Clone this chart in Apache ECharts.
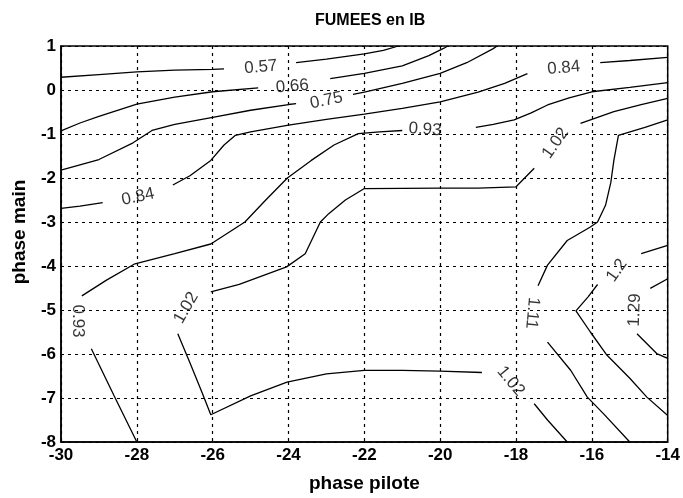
<!DOCTYPE html>
<html>
<head>
<meta charset="utf-8">
<script src="https://cdn.jsdelivr.net/npm/echarts@6/dist/echarts.min.js"></script>
<style>html,body{margin:0;padding:0;background:#fff}#c{width:683px;height:498px}</style>
</head>
<body>
<div id="c"></div>
<script>
// axis settings
const xMin = -30, xMax = -14, xStep = 2;
const yMin = -8, yMax = 1, yStep = 1;
const titleText = 'FUMEES en IB';
const xName = 'phase pilote';
const yName = 'phase main';

// contour 0.57
const c057a = [[-30,0.29],[-29,0.35],[-28,0.41],[-27,0.45],[-26,0.47],[-25.7,0.48]];
const c057b = [[-23.8,0.62],[-23,0.70],[-22,0.82],[-21.5,0.9],[-21.1,1.0]];
// contour 0.66
const c066a = [[-30,-0.93],[-29.5,-0.75],[-29,-0.6],[-28,-0.32],[-27,-0.16],[-26,-0.04],[-24.8,0.05]];
const c066b = [[-22.9,0.26],[-22,0.38],[-21,0.55],[-20.3,0.78],[-19.9,0.95],[-19.8,1.0]];
// contour 0.75
const c075a = [[-30,-1.82],[-29,-1.58],[-28.1,-1.2],[-27.6,-0.92],[-27,-0.78],[-26,-0.62],[-25,-0.46],[-24,-0.33],[-23.8,-0.31]];
const c075b = [[-22.3,-0.1],[-22,-0.05],[-21,0.15],[-20,0.38],[-19.3,0.62],[-18.6,0.94],[-18.5,1.0]];
// contour 0.84
const c084a = [[-30,-2.69],[-29.5,-2.64],[-28.9,-2.56]];
const c084b = [[-27.05,-2.16],[-26.6,-1.95],[-26.05,-1.6],[-25.7,-1.25],[-25.4,-1.03],[-25,-0.95],[-24,-0.8],[-23,-0.67],[-22,-0.55],[-21,-0.42],[-20,-0.27],[-19,-0.05],[-18.3,0.15],[-17.7,0.37]];
const c084c = [[-15.78,0.62],[-15,0.67],[-14,0.74]];
// contour 0.93
const c093a = [[-14,0.17],[-15,0.06],[-16,-0.04],[-16.6,-0.18],[-17.17,-0.34],[-17.6,-0.52],[-18.05,-0.68],[-18.6,-0.78],[-19.06,-0.85]];
const c093b = [[-21.0,-0.92],[-21.6,-0.95],[-22.16,-0.99],[-22.8,-1.25],[-23.4,-1.6],[-24.03,-2.0],[-24.6,-2.5],[-25.15,-3.0],[-26.05,-3.5],[-27,-3.72],[-28.05,-3.95],[-28.8,-4.32],[-29.45,-4.68]];
const c093c = [[-29.2,-5.88],[-28.6,-6.95],[-28.0,-8.0]];
// contour 1.02
const c102a = [[-14,-0.19],[-14.7,-0.33],[-15.42,-0.49],[-16.3,-0.76]];
const c102b = [[-17.52,-1.78],[-18.0,-2.2],[-19,-2.23],[-20,-2.23],[-22.0,-2.24],[-22.5,-2.5],[-22.94,-2.81],[-23.16,-3.0],[-23.56,-3.72],[-24.05,-4.02],[-25.3,-4.42],[-26.05,-4.59]];
const c102c = [[-26.92,-5.54],[-26.6,-6.2],[-26.27,-6.9],[-26.05,-7.38],[-25,-6.95],[-24.04,-6.64],[-23,-6.45],[-22,-6.37],[-21,-6.37],[-20,-6.39],[-18.9,-6.42]];
const c102d = [[-17.52,-7.13],[-17.17,-7.5],[-16.65,-8.0]];
// contour 1.11
const c111a = [[-14,-0.68],[-14.6,-0.85],[-15.3,-1.03],[-15.42,-1.6],[-15.5,-2.1],[-15.64,-2.62],[-15.85,-3.0],[-16.05,-3.12],[-16.65,-3.42],[-17.17,-3.98],[-17.42,-4.45]];
const c111b = [[-17.17,-5.73],[-16.56,-6.37],[-16.12,-6.98],[-15.69,-7.36],[-15.0,-8.0]];
// contour 1.2
const c120a = [[-14,-3.53],[-14.7,-3.72]];
const c120b = [[-15.85,-4.42],[-16.1,-4.7],[-16.42,-5.02],[-16.04,-5.5],[-15.6,-6.03],[-15.0,-6.55],[-14.55,-6.98],[-14,-7.4]];
// contour 1.29
const c129a = [[-14,-4.29],[-14.46,-4.51]];
const c129b = [[-14.81,-5.54],[-14.29,-5.99],[-14,-6.1]];

// contour labels: x, y, text, rotation
const contourLabels = [
  [-24.73,0.52,'0.57',5],
  [-23.9,0.08,'0.66',5],
  [-23.0,-0.24,'0.75',12],
  [-27.97,-2.43,'0.84',12],
  [-16.74,0.5,'0.84',5],
  [-20.4,-0.9,'0.93',-4],
  [-29.55,-5.25,'0.93',-90],
  [-16.96,-1.21,'1.02',55],
  [-26.7,-4.95,'1.02',60],
  [-18.14,-6.62,'1.02',-50],
  [-17.57,-5.07,'1.11',-95],
  [-15.34,-4.1,'1.2',55],
  [-14.87,-5.0,'1.29',88]
];

const segments = [c057a,c057b,c066a,c066b,c075a,c075b,c084a,c084b,c084c,c093a,c093b,c093c,c102a,c102b,c102c,c102d,c111a,c111b,c120a,c120b,c129a,c129b];

const tickFont = {color:'#000', fontWeight:'bold', fontSize:17, fontFamily:'"Liberation Sans Narrow","Arial Narrow","Liberation Sans",sans-serif'};
const gridLine = {show:true, lineStyle:{color:'#000', type:[3,4], width:1.2}};

const series = segments.map(s => ({
  type:'line', data:s, showSymbol:false, symbol:'none', silent:true,
  lineStyle:{color:'#000', width:1.3}, animation:false, z:3
}));
series.push({
  type:'scatter', symbolSize:0, silent:true, animation:false, z:4,
  data: contourLabels.map(d => ({value:[d[0],d[1]], label:{rotate:d[3], formatter:d[2]}})),
  label:{show:true, position:'inside', color:'#000', textBorderWidth:0, textBorderColor:'transparent',
    fontSize:17, fontFamily:'"Liberation Sans",Arial,sans-serif', align:'center', verticalAlign:'middle'}
});

const chart = echarts.init(document.getElementById('c'), null, {renderer:'canvas'});
chart.setOption({
  animation:false,
  backgroundColor:'#fff',
  title:{text:titleText, left:310, top:8, textStyle:{color:'#000', fontWeight:'bold', fontSize:16, fontFamily:'"Liberation Sans",Arial,sans-serif'}},
  grid:{left:61, right:12, top:46, bottom:56, show:true, borderColor:'#000', borderWidth:1.5, backgroundColor:'transparent'},
  xAxis:{type:'value', min:xMin, max:xMax, interval:xStep,
    name:xName, nameLocation:'middle', nameGap:32,
    nameTextStyle:{color:'#000', fontWeight:'bold', fontSize:19, fontFamily:tickFont.fontFamily},
    axisLine:{show:true, onZero:false, lineStyle:{color:'#000', width:1.5}}, axisTick:{show:false},
    axisLabel:Object.assign({margin:5}, tickFont), splitLine:gridLine},
  yAxis:{type:'value', min:yMin, max:yMax, interval:yStep,
    name:yName, nameLocation:'middle', nameGap:32,
    nameTextStyle:{color:'#000', fontWeight:'bold', fontSize:19, fontFamily:tickFont.fontFamily, padding:[0,0,0,24]},
    axisLine:{show:true, onZero:false, lineStyle:{color:'#000', width:1.5}}, axisTick:{show:false},
    axisLabel:Object.assign({margin:5}, tickFont), splitLine:gridLine},
  series:series
});
</script>
</body>
</html>
